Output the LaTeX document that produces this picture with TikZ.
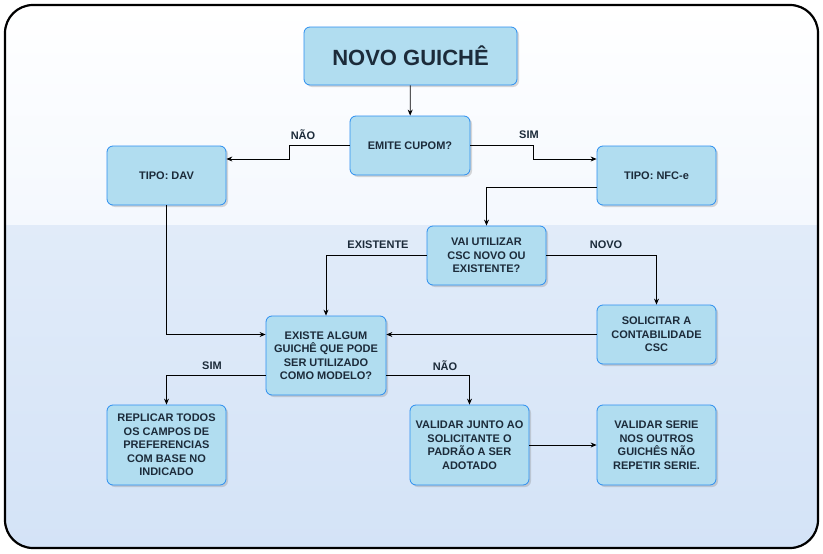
\documentclass[tikz,border=0pt]{standalone}
\usepackage{fontspec}
\setmainfont{Liberation Sans}
\usetikzlibrary{shadows,arrows.meta}
\definecolor{boxfill}{HTML}{B1DDF0}
\definecolor{boxline}{HTML}{2B8EF0}
\definecolor{txt}{HTML}{1C2B3A}
\definecolor{bgtop}{HTML}{F4F8FE}
\definecolor{bgbot}{HTML}{D4E3F7}
\tikzset{
 box/.style={draw=boxline,fill=boxfill,rounded corners=6pt,line width=0.8pt,align=center,
   font=\bfseries\fontsize{11}{13.5}\selectfont,text=txt,inner sep=1pt,
   drop shadow={shadow xshift=2pt,shadow yshift=-2pt,opacity=0.3}},
 conn/.style={line width=0.8pt,-{Stealth[length=6pt,width=5pt]}},
 lbl/.style={font=\bfseries\fontsize{11}{13}\selectfont,text=txt}
}
\begin{document}
\begin{tikzpicture}[x=1pt,y=-1pt]
\useasboundingbox (0,0) rectangle (823,554);
\begin{scope}
\clip[rounded corners=28pt] (5,5) rectangle (818,548);
\shade[top color=white,bottom color=bgtop] (5,5) rectangle (818,225);
\shade[top color=bgbot!70!white,bottom color=bgbot] (5,225) rectangle (818,548);
\end{scope}
\draw[line width=2.2pt,rounded corners=28pt] (5,5) rectangle (818,548);
\node[box,minimum width=213pt,minimum height=58pt,font=\bfseries\fontsize{22}{26}\selectfont] (novo) at (410.5,56) {NOVO GUICHÊ};
\node[box,minimum width=120pt,minimum height=59pt] (emite) at (410,145.5) {EMITE CUPOM?};
\node[box,minimum width=119pt,minimum height=59pt] (dav) at (166.5,175.5) {TIPO: DAV};
\node[box,minimum width=119pt,minimum height=59pt] (nfc) at (656.5,175.5) {TIPO: NFC-e};
\node[box,minimum width=119pt,minimum height=59pt] (vai) at (486.5,255.5) {VAI UTILIZAR\\CSC NOVO OU\\EXISTENTE?};
\node[box,minimum width=119pt,minimum height=59pt] (sol) at (656.5,334.5) {SOLICITAR A\\CONTABILIDADE\\CSC};
\node[box,minimum width=120pt,minimum height=79pt] (exi) at (326,355.5) {EXISTE ALGUM\\GUICHÊ QUE PODE\\SER UTILIZADO\\COMO MODELO?};
\node[box,minimum width=119pt,minimum height=80pt] (rep) at (166.5,445) {REPLICAR TODOS\\OS CAMPOS DE\\PREFERENCIAS\\COM BASE NO\\INDICADO};
\node[box,minimum width=119pt,minimum height=80pt] (val) at (469.5,445) {VALIDAR JUNTO AO\\SOLICITANTE O\\PADRÃO A SER\\ADOTADO};
\node[box,minimum width=119pt,minimum height=80pt] (ser) at (656.5,445) {VALIDAR SERIE\\NOS OUTROS\\GUICHÊS NÃO\\REPETIR SERIE.};
\draw[conn] (novo) -- (emite);
\draw[conn] (emite.west) -- (289,145.5) -- (289,159) -- (dav.east |- 0,159);
\draw[conn] (emite.east) -- (533,145.5) -- (533,159) -- (nfc.west |- 0,159);
\draw[conn] (nfc.west |- 0,187) -- (486.5,187) -- (vai.north);
\draw[conn] (vai.west) -- (326,255.5) -- (exi.north);
\draw[conn] (vai.east) -- (656.5,255.5) -- (sol.north);
\draw[conn] (sol.west) -- (exi.east |- sol.west);
\draw[conn] (dav.south) -- (166.5,334.5) -- (exi.west |- 0,334.5);
\draw[conn] (exi.west |- 0,375) -- (166.5,375) -- (rep.north);
\draw[conn] (exi.east |- 0,375) -- (469.5,375) -- (val.north);
\draw[conn] (val.east) -- (ser.west);
\node[lbl] (l1) at (303,135) {NÃO};
\node[lbl] (l2) at (529,135) {SIM};
\node[lbl] (l3) at (378,245) {EXISTENTE};
\node[lbl] (l4) at (606,245) {NOVO};
\node[lbl] (l5) at (212,366) {SIM};
\node[lbl] (l6) at (445,366) {NÃO};
\end{tikzpicture}
\end{document}
